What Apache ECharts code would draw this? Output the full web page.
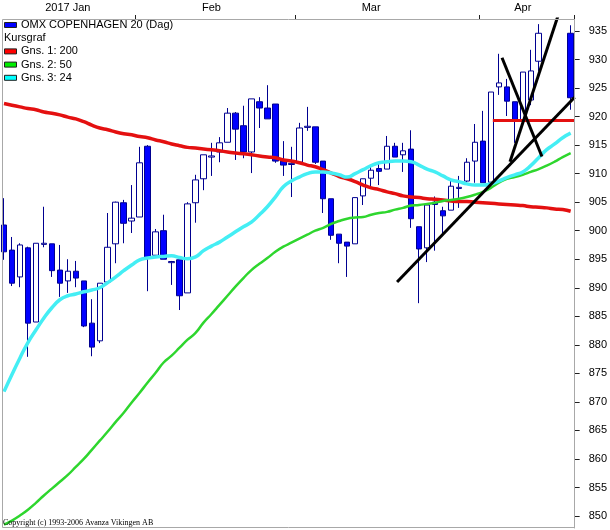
<!DOCTYPE html>
<html>
<head>
<meta charset="utf-8">
<title>OMX COPENHAGEN 20</title>
<script src="https://cdn.jsdelivr.net/npm/echarts@6/dist/echarts.min.js"></script>
<style>
  html, body { margin: 0; padding: 0; background: #fff; }
  #chart { width: 610px; height: 530px; }
</style>
</head>
<body>
<div id="chart"></div>
<script>
// handelsdage, helligdage (13/4, 14/4, 17/4) står tomme
var days = [
  '2017-01-09','2017-01-10','2017-01-11','2017-01-12','2017-01-13','2017-01-16','2017-01-17','2017-01-18',
  '2017-01-19','2017-01-20','2017-01-23','2017-01-24','2017-01-25','2017-01-26','2017-01-27','2017-01-30',
  '2017-01-31','2017-02-01','2017-02-02','2017-02-03','2017-02-06','2017-02-07','2017-02-08','2017-02-09',
  '2017-02-10','2017-02-13','2017-02-14','2017-02-15','2017-02-16','2017-02-17','2017-02-20','2017-02-21',
  '2017-02-22','2017-02-23','2017-02-24','2017-02-27','2017-02-28','2017-03-01','2017-03-02','2017-03-03',
  '2017-03-06','2017-03-07','2017-03-08','2017-03-09','2017-03-10','2017-03-13','2017-03-14','2017-03-15',
  '2017-03-16','2017-03-17','2017-03-20','2017-03-21','2017-03-22','2017-03-23','2017-03-24','2017-03-27',
  '2017-03-28','2017-03-29','2017-03-30','2017-03-31','2017-04-03','2017-04-04','2017-04-05','2017-04-06',
  '2017-04-07','2017-04-10','2017-04-11','2017-04-12','2017-04-13','2017-04-14','2017-04-17','2017-04-18'
];

// [open, close, low, high]
var candles = [
  [901.0, 896.3, 894.9, 905.7], [896.6, 890.8, 890.3, 898.9], [891.9, 897.5, 890.1, 897.8],
  [897.0, 883.8, 877.9, 897.2], [884.0, 897.8, 884.0, 897.8], [897.6, 897.8, 897.1, 904.2],
  [897.7, 893.0, 891.9, 897.7], [893.1, 890.8, 888.4, 897.5], [891.2, 892.9, 889.1, 895.0],
  [892.9, 891.7, 890.1, 894.7], [891.2, 883.3, 883.1, 891.2], [883.8, 879.6, 878.0, 888.0],
  [880.7, 890.8, 880.3, 890.8], [891.0, 897.1, 891.0, 903.1], [897.7, 905.0, 894.3, 905.1],
  [904.9, 901.3, 897.8, 905.4], [901.7, 902.2, 899.6, 908.0], [902.4, 911.9, 902.4, 914.7],
  [914.8, 895.2, 889.4, 915.0], [895.7, 899.8, 895.7, 900.3], [900.0, 895.0, 895.0, 902.8],
  [894.4, 894.6, 890.5, 894.7], [894.9, 888.6, 886.1, 894.9], [889.1, 904.7, 889.1, 905.0],
  [904.9, 908.9, 901.4, 909.8], [909.1, 913.3, 907.1, 913.3], [912.9, 913.1, 909.6, 915.4],
  [913.8, 915.4, 912.0, 916.4], [915.5, 920.6, 915.5, 921.5], [920.6, 917.8, 912.4, 920.8],
  [918.4, 913.8, 912.7, 921.9], [913.8, 923.1, 910.1, 923.1], [922.6, 921.5, 918.0, 923.4],
  [921.5, 919.6, 919.6, 925.5], [922.2, 912.2, 911.9, 922.2], [912.2, 911.5, 909.6, 915.7],
  [911.6, 911.8, 905.9, 914.7], [912.0, 918.0, 912.0, 918.9], [918.1, 918.3, 917.5, 921.7],
  [918.2, 912.0, 911.7, 918.2], [912.2, 905.6, 903.1, 912.2], [905.6, 899.2, 898.4, 905.6],
  [899.4, 897.8, 894.3, 899.4], [898.0, 897.3, 891.9, 898.0], [897.7, 905.8, 897.7, 905.8],
  [906.1, 909.1, 904.5, 909.1], [909.2, 910.6, 907.7, 911.5], [910.9, 910.4, 908.0, 911.9],
  [910.8, 914.8, 910.8, 916.6], [914.8, 912.9, 912.9, 915.4], [913.3, 914.0, 910.3, 915.4],
  [914.3, 902.1, 900.5, 917.6], [900.7, 896.8, 887.3, 900.7], [897.0, 904.5, 894.5, 904.5],
  [905.0, 904.6, 896.5, 906.0], [903.5, 902.6, 899.5, 904.2], [903.6, 907.8, 903.6, 908.9],
  [907.4, 907.6, 904.0, 909.6], [908.7, 912.0, 908.3, 912.7], [912.2, 915.5, 908.4, 918.7],
  [915.7, 908.4, 908.4, 921.0], [908.5, 924.3, 908.5, 924.3], [925.2, 925.9, 923.8, 931.0],
  [925.2, 922.7, 920.1, 926.6], [922.6, 919.4, 915.4, 922.6], [919.4, 927.8, 919.4, 927.8],
  [922.9, 928.0, 922.0, 931.7], [929.7, 934.6, 928.0, 936.2],
  '-', '-', '-',
  [934.6, 923.3, 921.2, 936.0]
];

// Gns. 1: 200
var ma200 = [
  922.3, 922.0, 921.7, 921.4, 921.2, 920.8, 920.6, 920.3, 919.9, 919.6,
  919.1, 918.5, 918.0, 917.7, 917.3, 917.0, 916.8, 916.5, 916.3, 915.9,
  915.6, 915.2, 914.9, 914.6, 914.5, 914.3, 914.2, 914.0, 913.8, 913.6,
  913.5, 913.3, 913.1, 912.9, 912.8, 912.4, 912.2, 911.9, 911.5, 911.2,
  910.7, 910.1, 909.5, 909.1, 908.6, 908.0, 907.5, 907.2, 906.8, 906.5,
  906.1, 905.9, 905.8, 905.6, 905.5, 905.4, 905.2, 905.1, 905.1, 905.0,
  904.9, 904.8, 904.7, 904.6, 904.5, 904.4, 904.2, 904.1, 904.0, 903.8,
  903.7, 903.4
];

// Gns. 2: 50
var ma50 = [
  848.5, 849.2, 850.1, 851.1, 852.3, 853.6, 854.8, 856.0, 857.2, 858.6,
  860.0, 861.6, 863.2, 864.8, 866.5, 868.1, 869.9, 871.6, 873.4, 875.1,
  876.9, 878.1, 879.5, 880.9, 882.1, 883.9, 885.4, 887.0, 888.6, 890.2,
  891.7, 893.1, 894.2, 895.2, 896.3, 897.2, 897.9, 898.6, 899.3, 900.0,
  900.5, 901.2, 901.7, 902.1, 902.3, 902.4, 902.8, 903.1, 903.3, 903.7,
  904.0, 904.4, 904.5, 904.7, 904.9, 905.2, 905.4, 905.6, 905.9, 906.3,
  906.8, 907.5, 908.4, 909.1, 909.4, 909.8, 910.3, 910.8, 911.4, 912.1,
  912.9, 913.6
];

// Gns. 3: 24
var ma24 = [
  871.8, 874.8, 877.7, 880.4, 882.6, 884.7, 886.5, 887.9, 888.6, 888.9,
  889.3, 889.6, 890.0, 890.9, 891.9, 893.0, 894.0, 894.9, 895.2, 895.4,
  895.5, 895.6, 895.3, 895.1, 895.4, 896.5, 897.3, 898.0, 898.9, 899.8,
  900.7, 901.5, 902.8, 904.2, 905.9, 907.7, 908.7, 909.4, 910.0, 910.3,
  910.3, 910.1, 909.8, 909.4, 910.0, 910.7, 911.4, 911.9, 912.1, 912.2,
  912.2, 912.1, 911.5, 910.8, 910.3, 909.6, 908.9, 908.6, 908.2, 908.0,
  908.0, 908.2, 908.7, 909.3, 909.8, 910.3, 911.4, 912.8, 914.2, 915.2,
  916.3, 917.1
];

// tegnede trendlinjer: [dagindeks, kurs]
var trendLines = [
  [[49.25, 891.0], [71.5, 923.4]],
  [[63.4, 912.1], [69.4, 937.6]],
  [[62.4, 930.3], [67.4, 913.0]]
];
var supportLine = [[61.25, 919.3], [71.5, 919.3]];

var monthTickIdx = [17, 37, 60];
var monthLabelIdx = [8, 26, 46, 65];
var monthLabels = ['2017 Jan', 'Feb', 'Mar', 'Apr'];
var yTicks = [850, 855, 860, 865, 870, 875, 880, 885, 890, 895, 900, 905, 910, 915, 920, 925, 930, 935];

var legendRows = [
  { name: 'OMX COPENHAGEN 20 (Dag)', color: '#0000ff' },
  { name: 'Kursgraf', color: null },
  { name: 'Gns. 1: 200', color: '#ff0000' },
  { name: 'Gns. 2: 50', color: '#00ee00' },
  { name: 'Gns. 3: 24', color: '#00ffff' }
];

var font = '"Liberation Sans", Arial, sans-serif';

function legendGraphic() {
  var els = [];
  legendRows.forEach(function (row, i) {
    var y = 25 + i * 13.2;
    if (row.color) {
      els.push({
        type: 'rect',
        shape: { x: 4.5, y: y - 2.5, width: 12, height: 5 },
        style: { fill: row.color, stroke: '#202020', lineWidth: 1 }
      });
    }
    els.push({
      type: 'text',
      x: row.color ? 21 : 4,
      y: y,
      style: { text: row.name, fill: '#000', font: '11px ' + font, textVerticalAlign: 'middle' }
    });
  });
  return els;
}

var series = [
  {
    name: 'OMX COPENHAGEN 20 (Dag)',
    type: 'candlestick',
    data: candles,
    barWidth: 6,
    z: 2,
    itemStyle: {
      color: '#ffffff',
      color0: '#0000ff',
      borderColor: '#000090',
      borderColor0: '#000090',
      borderWidth: 1
    }
  },
  {
    name: 'Gns. 1: 200', type: 'line', data: ma200, smooth: true, showSymbol: false, z: 3,
    lineStyle: { color: '#e41010', width: 3.5 }
  },
  {
    name: 'Gns. 2: 50', type: 'line', data: ma50, smooth: true, showSymbol: false, z: 3,
    lineStyle: { color: '#2ed62e', width: 2.5 }
  },
  {
    name: 'Gns. 3: 24', type: 'line', data: ma24, smooth: true, showSymbol: false, z: 3,
    lineStyle: { color: '#44eef4', width: 3.5 }
  },
  {
    type: 'line', xAxisIndex: 1, data: supportLine, showSymbol: false, z: 4,
    lineStyle: { color: '#e41010', width: 3 }
  }
];
trendLines.forEach(function (ln) {
  series.push({
    type: 'line', xAxisIndex: 1, data: ln, showSymbol: false, z: 5, clip: true,
    lineStyle: { color: '#000', width: 3 }
  });
});

var myChart = echarts.init(document.getElementById('chart'));
myChart.setOption({
  animation: false,
  backgroundColor: '#ffffff',
  grid: { left: -1, right: 35, top: 19, bottom: 2, show: false },
  xAxis: [
    {
      type: 'category',
      data: days,
      position: 'top',
      boundaryGap: true,
      axisLine: { show: false, onZero: false },
      axisTick: {
        show: true,
        length: 4,
        interval: function (i) { return monthTickIdx.indexOf(i) >= 0; },
        lineStyle: { color: '#202020' }
      },
      axisLabel: {
        interval: function (i) { return monthLabelIdx.indexOf(i) >= 0; },
        formatter: function (v, i) { return monthLabels[monthLabelIdx.indexOf(i)] || ''; },
        margin: 6,
        fontSize: 11,
        fontFamily: font,
        color: '#000'
      },
      splitLine: { show: false }
    },
    { type: 'value', min: -0.5, max: 71.5, show: false, axisLine: { onZero: false } }
  ],
  yAxis: {
    type: 'value',
    position: 'right',
    min: 847.9,
    max: 937.1,
    axisLine: { show: true, onZero: false, lineStyle: { color: '#a8a8a8' } },
    axisTick: {
      show: true,
      inside: false,
      customValues: yTicks,
      length: 5,
      lineStyle: { color: '#202020' }
    },
    axisLabel: {
      customValues: yTicks,
      margin: 14,
      fontSize: 11,
      fontFamily: font,
      color: '#000'
    },
    splitLine: { show: false }
  },
  graphic: [
    {
      type: 'rect',
      z: 10,
      silent: true,
      shape: { x: 2.5, y: 19.5, width: 572, height: 508 },
      style: { fill: 'none', stroke: '#a8a8a8', lineWidth: 1 }
    },
    {
      type: 'group', z: 11, silent: true, children: legendGraphic()
    },
    {
      type: 'text', z: 11, silent: true, x: 3, y: 523,
      style: {
        text: 'Copyright (c) 1993-2006 Avanza Vikingen AB',
        fill: '#000',
        font: '8px "Liberation Serif", "Times New Roman", serif',
        textVerticalAlign: 'middle'
      }
    }
  ],
  series: series
});
</script>
</body>
</html>
